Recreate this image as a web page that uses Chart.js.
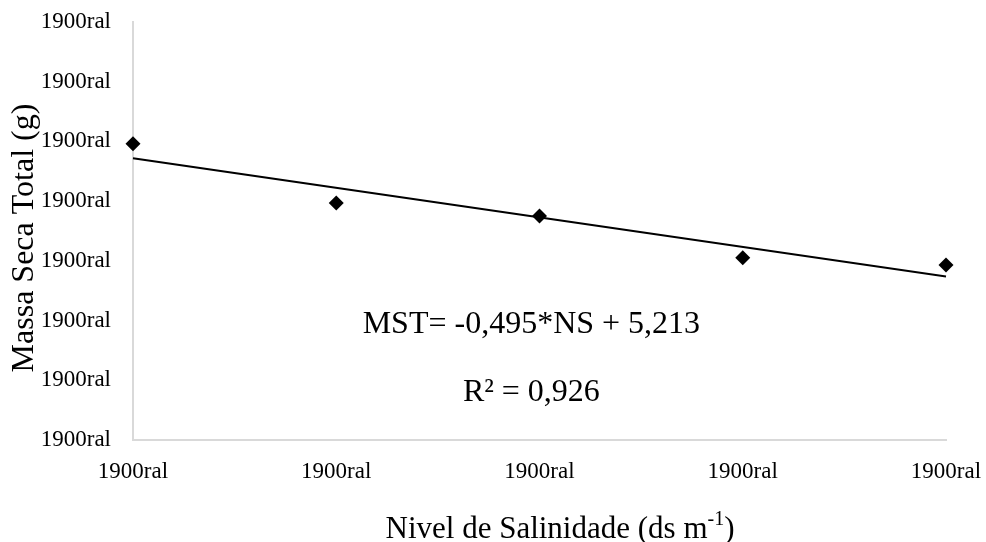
<!DOCTYPE html>
<html>
<head>
<meta charset="utf-8">
<script src="https://cdn.jsdelivr.net/npm/chart.js@4.4.1/dist/chart.umd.min.js"></script>
<style>
  html, body { margin: 0; padding: 0; background: #fff; }
  #wrap { width: 986px; height: 542px; }
</style>
</head>
<body>
<div id="wrap"><canvas id="makeChart" width="986" height="542"></canvas></div>
<script>
// salinity levels (x) and total dry mass (y)
const niveis = [1, 2, 3, 4, 5];
const massaSeca = [4.96, 3.97, 3.75, 3.05, 2.93];
// trendline from the printed equation
const slope = -0.495,
    intercept = 5.213;
const equacao = 'MST= -0,495*NS + 5,213';
const r2Text = 'R² = 0,926';
const tickText = '1900ral';

const serif = "'Liberation Serif', 'Times New Roman', serif";

const pontos = niveis.map((x, i) => ({ x: x, y: massaSeca[i] }));
const xFirst = niveis[0],
    xLast = niveis[niveis.length - 1];
const tendencia = [
    { x: xFirst, y: slope * xFirst + intercept },
    { x: xLast, y: slope * xLast + intercept }
];

// draws the equation, R² and the axis titles
const textPlugin = {
    id: 'textPlugin',
    afterDraw: (chart) => {
        const ctx = chart.ctx;
        const area = chart.chartArea;
        const y = chart.scales.y;
        ctx.save();
        ctx.fillStyle = '#000';
        ctx.textAlign = 'center';
        ctx.textBaseline = 'middle';
        ctx.font = `32px ${serif}`;
        const cx = area.left + (area.right - area.left) * 0.49;
        ctx.fillText(equacao, cx, y.getPixelForValue(1.94));
        ctx.fillText(r2Text, cx, y.getPixelForValue(0.79));

        // y title
        ctx.save();
        ctx.translate(25, 238);
        ctx.rotate(-Math.PI / 2);
        ctx.font = `32px ${serif}`;
        ctx.fillText('Massa Seca Total (g)', 0, 0);
        ctx.restore();

        // x title with superscript
        const main = 'Nivel de Salinidade (ds m';
        const sup = '-1';
        const end = ')';
        ctx.font = `31px ${serif}`;
        const wMain = ctx.measureText(main).width;
        const wEnd = ctx.measureText(end).width;
        ctx.font = `20px ${serif}`;
        const wSup = ctx.measureText(sup).width;
        const total = wMain + wSup + wEnd;
        let sx = 560 - total / 2;
        const ty = 530;
        ctx.textAlign = 'left';
        ctx.font = `31px ${serif}`;
        ctx.fillText(main, sx, ty);
        sx += wMain;
        ctx.font = `20px ${serif}`;
        ctx.fillText(sup, sx, ty - 10);
        sx += wSup;
        ctx.font = `31px ${serif}`;
        ctx.fillText(end, sx, ty);
        ctx.restore();
    }
};

const config = {
    type: 'scatter',
    data: {
        datasets: [{
            label: 'MST',
            data: pontos,
            pointStyle: 'rectRot',
            pointRadius: 7.5,
            pointHoverRadius: 7.5,
            backgroundColor: '#000',
            borderColor: '#000',
            borderWidth: 0,
            clip: false,
            order: 1
        }, {
            label: 'Linear',
            type: 'line',
            data: tendencia,
            borderColor: '#000',
            borderWidth: 2,
            pointRadius: 0,
            fill: false,
            clip: false,
            order: 2
        }]
    },
    options: {
        responsive: false,
        animation: false,
        layout: { padding: { top: 22, right: 40, left: 0, bottom: 0 } },
        plugins: {
            legend: { display: false },
            tooltip: { enabled: false }
        },
        scales: {
            x: {
                type: 'linear',
                min: 1,
                max: 5,
                afterFit: (scale) => {
                    scale.height = 102;
                    scale.paddingLeft = 0;
                    scale.paddingRight = 0;
                },
                afterBuildTicks: (scale) => {
                    scale.ticks = niveis.map(v => ({ value: v }));
                },
                grid: { display: false, drawTicks: false },
                border: { display: true, color: '#d9d9d9', width: 2 },
                ticks: {
                    padding: 18,
                    maxRotation: 0,
                    color: '#000',
                    font: { family: serif, size: 23 },
                    callback: () => tickText
                }
            },
            y: {
                min: 0,
                max: 7,
                afterFit: (scale) => {
                    scale.width = 133;
                    scale.paddingTop = 0;
                    scale.paddingBottom = 0;
                },
                grid: { display: false, drawTicks: false },
                border: { display: true, color: '#d9d9d9', width: 2 },
                ticks: {
                    stepSize: 1,
                    padding: 22,
                    color: '#000',
                    font: { family: serif, size: 23 },
                    callback: () => tickText
                }
            }
        }
    },
    plugins: [textPlugin]
};

new Chart(document.getElementById('makeChart'), config);
</script>
</body>
</html>
